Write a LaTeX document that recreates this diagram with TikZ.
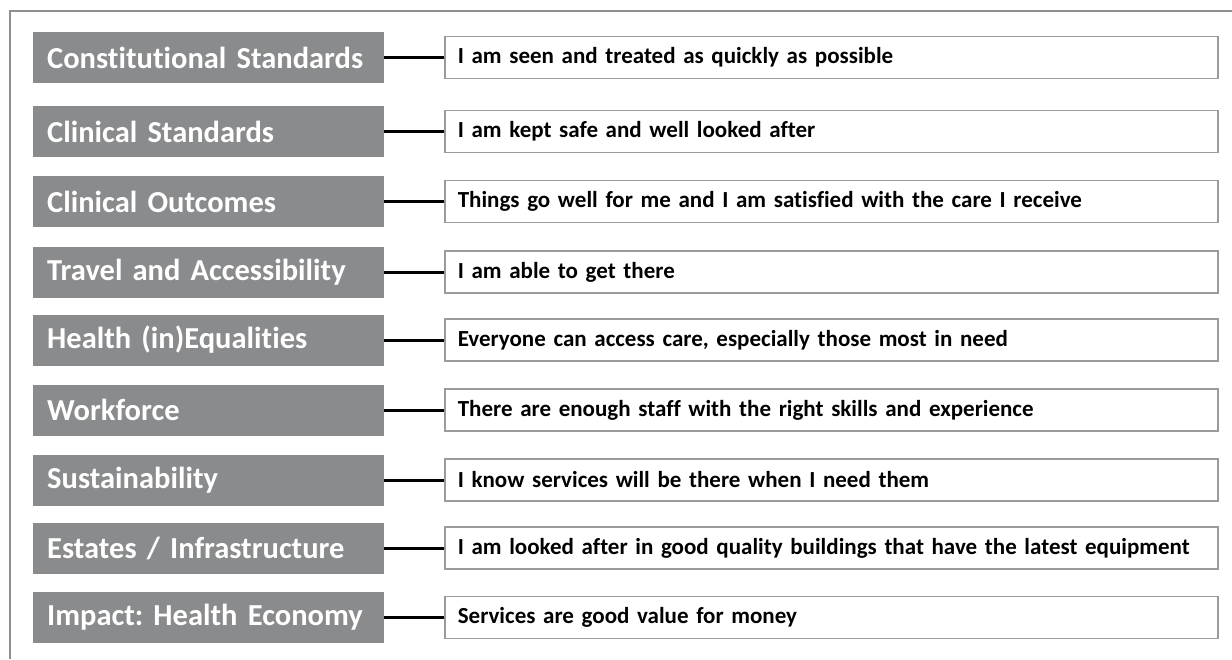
\documentclass[tikz,border=0pt]{standalone}
\usepackage{fontspec}
\setmainfont{Carlito}[Ligatures=NoCommon]
\definecolor{boxgray}{HTML}{898B8D}
\definecolor{edgegray}{HTML}{9A9C9C}
\definecolor{framegray}{HTML}{8E9090}
\newcommand\mycatfont{\bfseries\fontsize{30.5}{34}\selectfont\frenchspacing\spaceskip=0.15em\relax}
\newcommand\mydescfont{\bfseries\fontsize{23}{26}\selectfont\frenchspacing\spaceskip=0.15em\relax}
\begin{document}
\begin{tikzpicture}[x=1pt,y=-1pt,
  catbox/.style={fill=boxgray, draw=none, text=white,
     font=\mycatfont,
     minimum width=351pt, minimum height=51pt, inner sep=0pt, anchor=west, align=left,
     text width=323pt},
  descbox/.style={fill=white, draw=edgegray, line width=1.6pt, text=black,
     font=\mydescfont,
     minimum width=773pt, minimum height=42pt,
     inner sep=0pt, anchor=west, text width=747pt, align=left},
  link/.style={line width=3pt, black}]
\useasboundingbox (0,0) rectangle (1232,659);
\fill[white] (0,0) rectangle (1232,659);
\draw[framegray, line width=1.5pt] (10,659) -- (10,11) -- (1232,11);
\foreach \i/\y/\ct/\dt in {
  1/57.5/{Constitutional Standards}/{I am seen and treated as quickly as possible},
  2/131.5/{Clinical Standards}/{I am kept safe and well looked after},
  3/201.5/{Clinical Outcomes}/{Things go well for me and I am satisfied with the care I receive},
  4/272/{Travel and Accessibility}/{I am able to get there},
  5/340/{Health (in)Equalities}/{Everyone can access care, especially those most in need},
  6/410/{Workforce}/{There are enough staff with the right skills and experience},
  7/480/{Sustainability}/{I know services will be there when I need them},
  8/548/{Estates / Infrastructure}/{I am looked after in good quality buildings that have the latest equipment},
  9/617.5/{Impact: Health Economy}/{Services are good value for money}} {
  \node[catbox] (c\i) at (33,\y) {\hbox{\ct}};
  \node[descbox] (d\i) at (444,\y) {\hbox{\dt}};
  \draw[link] (c\i.east) -- (d\i.west);
}
\end{tikzpicture}
\end{document}
